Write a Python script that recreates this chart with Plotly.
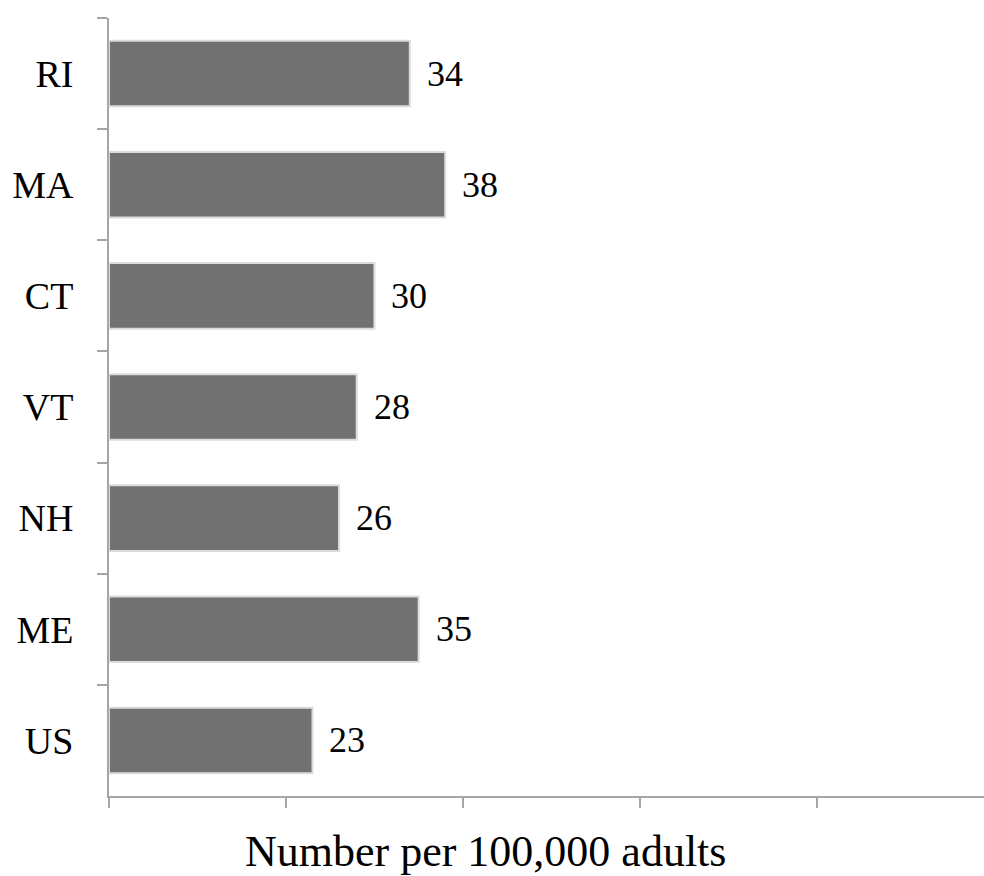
import plotly.graph_objects as go

states = ["RI", "MA", "CT", "VT", "NH", "ME", "US"]
values = [34, 38, 30, 28, 26, 35, 23]
x_ticks = [0, 20, 40, 60, 80]
x_title = "Number per 100,000 adults"

FONT = "Liberation Serif"
AXIS_COLOR = "#a6a6a6"

fig = go.Figure()
fig.add_trace(go.Bar(
    y=states,
    x=values,
    orientation="h",
    marker=dict(color="#717171", line=dict(color="#dcdcdc", width=2)),
    width=0.59,
    hoverinfo="x+y",
))

for s, v in zip(states, values):
    fig.add_annotation(
        x=v, y=s, text=str(v), showarrow=False,
        xanchor="left", yanchor="middle", xshift=15,
        font=dict(family=FONT, size=36, color="#000000"),
    )

# axis title, placed left of the plot centre as in the reference
fig.add_annotation(
    x=0.43, y=0, xref="paper", yref="paper",
    text=x_title, showarrow=False,
    xanchor="center", yanchor="middle", yshift=-55,
    font=dict(family=FONT, size=44, color="#000000"),
)

fig.update_layout(
    width=984, height=876,
    margin=dict(l=109, r=0, t=18, b=80),
    plot_bgcolor="white", paper_bgcolor="white",
    showlegend=False,
    font=dict(family=FONT, size=36, color="#000000"),
)

fig.update_xaxes(
    range=[0, 98.9],
    tickvals=x_ticks,
    showticklabels=False,
    ticks="outside", ticklen=10, tickcolor=AXIS_COLOR, tickwidth=2,
    showline=True, linecolor=AXIS_COLOR, linewidth=2,
    showgrid=False, zeroline=False,
)

fig.update_yaxes(
    categoryorder="array", categoryarray=states, autorange="reversed",
    tickson="boundaries",
    ticks="outside", ticklen=10, tickcolor=AXIS_COLOR, tickwidth=2,
    showline=True, linecolor=AXIS_COLOR, linewidth=2,
    showgrid=False, zeroline=False,
    ticklabelstandoff=26,
    tickfont=dict(family=FONT, size=38),
)

fig.write_html(
    "out.html",
    config={"displayModeBar": False},
    post_script="document.body.style.margin='0';document.body.style.overflow='hidden';",
)
